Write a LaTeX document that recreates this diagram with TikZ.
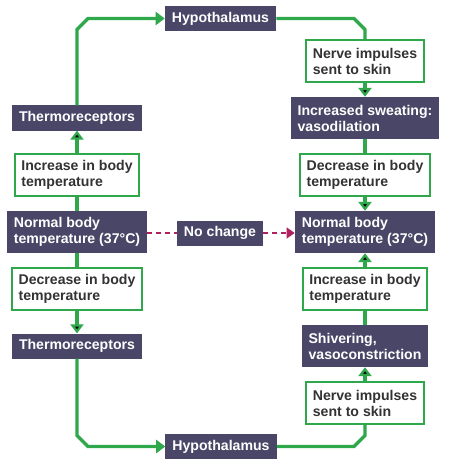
\documentclass[tikz,border=0pt]{standalone}
\usepackage{fontspec}
\setmainfont{Liberation Sans}
\usetikzlibrary{arrows.meta,positioning}
\definecolor{boxdark}{HTML}{4A4668}
\definecolor{loopgreen}{HTML}{2EA84A}
\definecolor{dashpink}{HTML}{B0205F}
\definecolor{textgray}{HTML}{333333}

\begin{document}
\begin{tikzpicture}[x=1pt,y=1pt,node distance=57pt,on grid,
    font=\fontsize{14.1}{16}\selectfont\bfseries,
    darkbox/.style={fill=boxdark,text=white,align=left,inner xsep=7pt,inner ysep=5pt},
    onebox/.style={darkbox,minimum height=25pt},
    twobox/.style={darkbox,minimum height=42pt},
    greenbox/.style={draw=loopgreen,line width=2pt,fill=white,text=textgray,align=left,
        inner xsep=6.5pt,inner ysep=5pt,minimum height=42pt},
    flow/.style={draw=loopgreen,line width=3.4pt},
    flowarr/.style={flow,-{Triangle[width=13pt,length=9pt]}},
    nochg/.style={draw=dashpink,line width=1.6pt,dash pattern=on 5pt off 4pt}]
    \useasboundingbox (0,0) rectangle (449,-468);
    % left side
    \node[twobox]   (normL) at (77,-232)      {Normal body\\temperature (37\textdegree C)};
    \node[greenbox] (incL)  [above of=normL]  {Increase in body\\temperature};
    \node[onebox]   (thermT)[above of=incL]   {Thermoreceptors};
    \node[greenbox] (decL)  [below of=normL]  {Decrease in body\\temperature};
    \node[onebox]   (thermB)[below of=decL]   {Thermoreceptors};
    \node[onebox]   (hypT)  at (220.5,-18.5)  {Hypothalamus};
    \node[onebox]   (hypB)  at (221,-446.5)   {Hypothalamus};
    \node[onebox]   (noch)  at (220,-233)     {No change};
    % right side
    \node[twobox]   (normR) at (365,-232)     {Normal body\\temperature (37\textdegree C)};
    \node[greenbox] (decR)  [above of=normR]  {Decrease in body\\temperature};
    \node[twobox]   (sweat) [above of=decR]   {Increased sweating:\\vasodilation};
    \node[greenbox] (nerveT)[above of=sweat]  {Nerve impulses\\sent to skin};
    \node[greenbox] (incR)  [below of=normR]  {Increase in body\\temperature};
    \node[twobox]   (shiv)  [below of=incR]   {Shivering,\\vasoconstriction};
    \node[greenbox] (nerveB)[below of=shiv]   {Nerve impulses\\sent to skin};
    % straight links
    \path[flow]
    (normL)  edge (incL)
             edge (decL)
    (sweat)  edge (decR)
    (shiv)   edge (incR);
    \path[flowarr]
    (incL)   edge (thermT)
    (decL)   edge (thermB)
    (nerveT) edge (sweat)
    (decR)   edge (normR)
    (incR)   edge (normR)
    (nerveB) edge (shiv);
    % corner links
    \draw[flowarr] (thermT.north) -- ([yshift=-11pt]thermT.north |- hypT.west)
        -- ([xshift=11pt]thermT.north |- hypT.west) -- (hypT.west);
    \draw[flow] (hypT.east) -- ([xshift=-11pt]nerveT.north |- hypT.east)
        -- ([yshift=-11pt]nerveT.north |- hypT.east) -- (nerveT.north);
    \draw[flowarr] (thermB.south) -- ([yshift=11pt]thermB.south |- hypB.west)
        -- ([xshift=11pt]thermB.south |- hypB.west) -- (hypB.west);
    \draw[flow] (hypB.east) -- ([xshift=-11pt]nerveB.south |- hypB.east)
        -- ([yshift=11pt]nerveB.south |- hypB.east) -- (nerveB.south);
    % no change
    \draw[nochg] (normL.east |- noch.west) -- (noch.west);
    \draw[nochg,-{Triangle[width=11pt,length=8pt]}] (noch.east) -- (normR.west |- noch.east);
\end{tikzpicture}
\end{document}
